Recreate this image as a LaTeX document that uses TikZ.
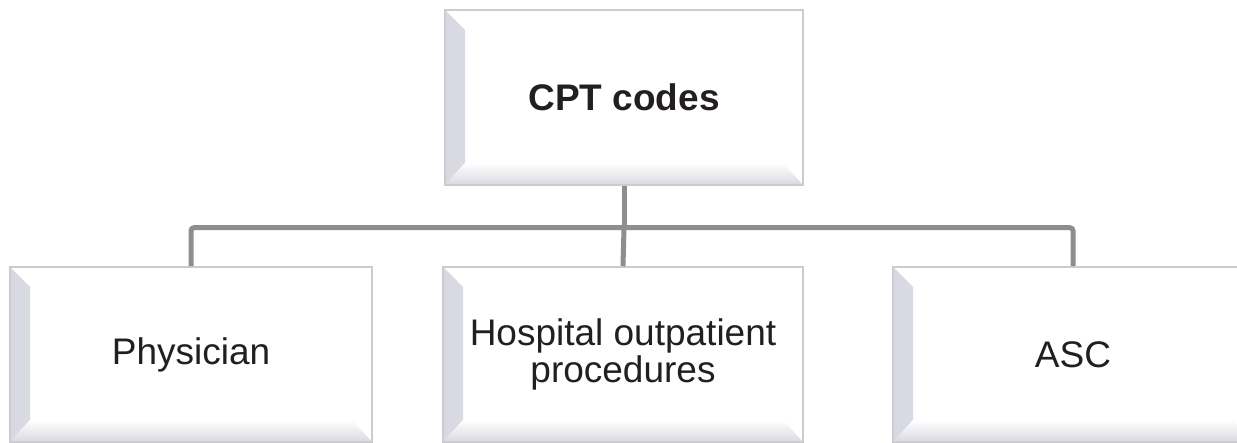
\documentclass[tikz,border=0pt]{standalone}
\usepackage{fontspec}
\setmainfont{Liberation Sans}
\usetikzlibrary{calc}
\definecolor{bevc}{HTML}{D8D8E2}
\definecolor{edgec}{HTML}{CCCCD0}
\definecolor{connc}{HTML}{8E8E8E}
\definecolor{txtc}{HTML}{231F20}
\tikzset{
  bevelbox/.style={draw=edgec, line width=1.5pt, fill=white, inner sep=0pt,
    minimum height=175pt, text=txtc, align=center,
    font=\fontsize{37}{37}\selectfont,
    path picture={
      \shade[left color=bevc, right color=white]
        (path picture bounding box.north west) -- ++(20pt,-20pt)
        -- ($(path picture bounding box.south west)+(20pt,22pt)$)
        -- (path picture bounding box.south west) -- cycle;
      \shade[bottom color=bevc, top color=white]
        (path picture bounding box.south west) -- ++(20pt,22pt)
        -- ($(path picture bounding box.south east)+(-20pt,22pt)$)
        -- (path picture bounding box.south east) -- cycle;
    }},
  conn/.style={draw=connc, line width=5pt, rounded corners=3pt}
}
\begin{document}
\begin{tikzpicture}[x=1pt,y=1pt]
\useasboundingbox (0,0) rectangle (1237,-443);
\fill[white] (0,0) rectangle (1237,-443);
\node[bevelbox, minimum width=358pt, font=\bfseries\fontsize{37}{37}\selectfont] (top) at (624,-97.5) {CPT codes};
\node[bevelbox, minimum width=362pt] (phys) at (191,-354.5) {Physician};
\node[bevelbox, minimum width=360pt] (hosp) at (623,-354.5) {Hospital outpatient\\procedures};
\node[bevelbox, minimum width=360pt] (asc) at (1073,-354.5) {ASC};
\draw[conn] (top.south) -- ++(0,-42) coordinate (j);
\draw[conn] (j) -| (phys.north);
\draw[conn] (j) -| (asc.north);
\draw[conn] (j) -- (hosp.north);
\end{tikzpicture}
\end{document}
